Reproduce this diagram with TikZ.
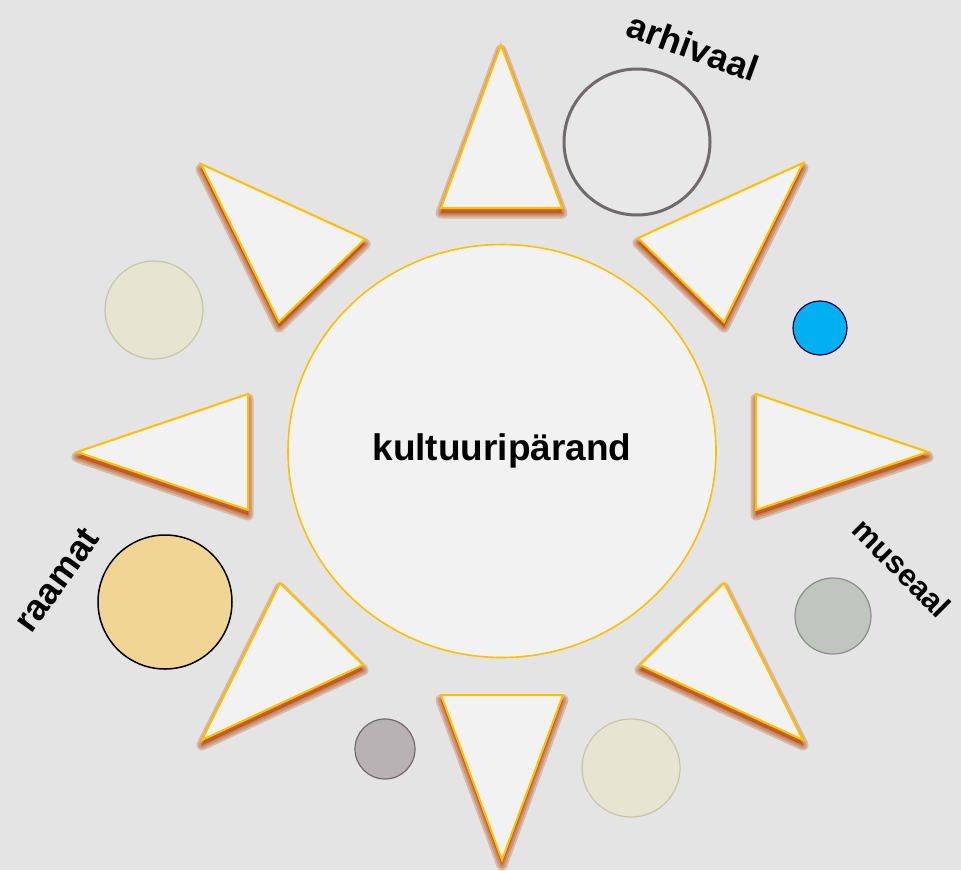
\documentclass[tikz,border=0pt]{standalone}
\usepackage{fontspec}
\setmainfont{Liberation Sans}
\usetikzlibrary{shapes.geometric}

\definecolor{paper}{RGB}{228,228,228}
\definecolor{petal}{RGB}{242,242,242}
\definecolor{gold}{RGB}{255,192,0}
\definecolor{rust}{RGB}{186,66,0}
\definecolor{ringgray}{RGB}{112,106,110}
\definecolor{skyblue}{RGB}{0,176,240}
\definecolor{cream}{RGB}{230,229,210}
\definecolor{creamline}{RGB}{198,198,166}
\definecolor{sand}{RGB}{240,213,149}
\definecolor{sage}{RGB}{192,197,192}
\definecolor{mauve}{RGB}{184,178,181}

\begin{document}
\begin{tikzpicture}[x=1pt, y=-1pt,
  ray/.style={draw=gold, fill=petal, line width=2pt, line join=miter},
  glow/.style={fill=rust, draw=rust, opacity=0.27, line join=round},
  dot/.style={circle, inner sep=0pt, line width=1.2pt},
  lbl/.style={font=\fontsize{36}{42}\selectfont\bfseries, inner sep=0pt}]

  % Background
  \fill[paper] (0,0) rectangle (961,870);
  \useasboundingbox (0,0) rectangle (961,870);

  % Rays with a soft shadow below
  \foreach \ax/\ay/\bx/\by/\cx/\cy in {441/208/562/208/501/45,
      638/238/803/163/724/322, 756/394/756/510/928/452,
      640/665/803/740/724/583, 441/695/563/695/502/860,
      202/740/363/665/280/583, 248/394/248/510/77/452,
      201/164/365/239/279/322} {
    \foreach \w in {11,7,3}
      \filldraw[glow, line width=\w pt, shift={(0,5)}]
        (\ax,\ay) -- (\bx,\by) -- (\cx,\cy) -- cycle;
    \filldraw[ray] (\ax,\ay) -- (\bx,\by) -- (\cx,\cy) -- cycle;
  }

  % Core
  \node[ellipse, draw=gold, fill=petal, line width=1.6pt,
        minimum width=428pt, minimum height=413pt,
        font=\fontsize{37}{42}\selectfont\bfseries] (core) at (502,451) {kultuuripärand};

  % Circles round the sun
  \node[dot, draw=ringgray, fill=petal!96!black, line width=3pt, minimum size=146pt] (arhiv) at (637,142) {};
  \node[dot, draw=black!75!blue, fill=skyblue, minimum size=54pt] (blue) at (820,328) {};
  \node[dot, draw=creamline, fill=cream, minimum size=98pt] (paleup) at (154,310) {};
  \node[dot, draw=black, fill=sand, line width=1.5pt, minimum size=134pt] (raamat) at (165,602) {};
  \node[dot, draw=black!45, fill=sage, minimum size=76pt] (museum) at (833,616) {};
  \node[dot, draw=ringgray, fill=mauve, minimum size=60pt] (grey) at (385,749) {};
  \node[dot, draw=creamline, fill=cream, minimum size=98pt] (palelow) at (631,768) {};

  % Labels
  \node[lbl, rotate=-20] (arhivlbl) at (693,47) {arhivaal};
  \node[lbl, rotate=54] (raamatlbl) at (57,580) {raamat};
  \node[lbl, rotate=-45, font=\fontsize{31}{36}\selectfont\bfseries] (museumlbl) at (902,568) {museaal};
\end{tikzpicture}
\end{document}
